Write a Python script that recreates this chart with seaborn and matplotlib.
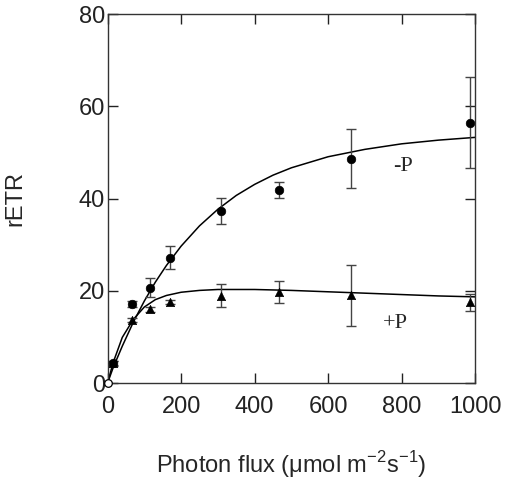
import numpy as np
import pandas as pd
import seaborn as sns
import matplotlib
matplotlib.use("Agg")
import matplotlib.pyplot as plt

flux = [15, 67, 116, 170, 309, 467, 663, 987]
etr_minus_p = [4.3, 17.2, 20.7, 27.2, 37.4, 41.9, 48.7, 56.5]
err_minus_p = [0.5, 0.6, 2.0, 2.5, 2.8, 1.8, 6.4, 9.8]
etr_plus_p = [4.3, 13.7, 16.0, 17.6, 18.9, 19.7, 19.0, 17.5]
err_plus_p = [0.4, 0.5, 0.6, 0.5, 2.5, 2.4, 6.6, 1.8]

# fitted curves
fit_flux = [0, 15, 40, 70, 100, 130, 160, 200, 250, 300, 350, 400,
            450, 500, 600, 700, 800, 900, 1000]
fit_minus_p = [0, 3.3, 8.0, 13.2, 17.8, 21.9, 25.5, 29.7, 34.1, 37.7, 40.7,
               43.1, 45.1, 46.7, 49.1, 50.7, 51.9, 52.7, 53.3]
fit_plus_p = [0, 4.4, 9.9, 13.8, 16.5, 18.1, 19.0, 19.7, 20.1, 20.3, 20.3,
              20.3, 20.2, 20.1, 19.8, 19.5, 19.2, 18.9, 18.7]

sns.set_style("ticks")
plt.rcParams['font.family'] = ['Liberation Sans', 'DejaVu Sans']
plt.rcParams['mathtext.fontset'] = 'custom'
plt.rcParams['mathtext.rm'] = 'Liberation Sans'

fig = plt.figure(figsize=(5.05, 4.93), dpi=100)
ax = fig.add_axes([0.213, 0.223, 0.728, 0.748])

fits = pd.DataFrame({"flux": fit_flux, "minus": fit_minus_p, "plus": fit_plus_p})
sns.lineplot(data=fits, x="flux", y="minus", ax=ax, color="black", lw=1.1)
sns.lineplot(data=fits, x="flux", y="plus", ax=ax, color="black", lw=1.1)

ax.errorbar(flux, etr_minus_p, yerr=err_minus_p, fmt="none", ecolor="#444444",
            elinewidth=1.0, capsize=3.5, capthick=1.0, zorder=2)
ax.errorbar(flux, etr_plus_p, yerr=err_plus_p, fmt="none", ecolor="#444444",
            elinewidth=1.0, capsize=3.5, capthick=1.0, zorder=2)

pts = pd.DataFrame({"flux": flux, "minus": etr_minus_p, "plus": etr_plus_p})
sns.scatterplot(data=pts, x="flux", y="minus", ax=ax, color="black",
                marker="o", s=38, edgecolor="black", zorder=3)
sns.scatterplot(data=pts, x="flux", y="plus", ax=ax, color="black",
                marker="^", s=36, edgecolor="black", zorder=3)
ax.scatter([0], [0], s=30, facecolor="white", edgecolor="black", lw=0.9,
           zorder=4, clip_on=False)

ax.text(777, 46.9, "-P", fontsize=16, va="center", family="Liberation Serif")
ax.text(750, 13.0, "+P", fontsize=16, va="center", family="Liberation Serif")

ax.set_xlim(0, 1000)
ax.set_ylim(0, 80)
ax.set_xticks([0, 200, 400, 600, 800, 1000])
ax.set_yticks([0, 20, 40, 60, 80])
ax.tick_params(direction="in", length=7.5, width=1, labelsize=17,
               top=True, right=True, pad=2, colors="#222222")
ax.tick_params(axis="x", pad=9)
for s in ax.spines.values():
    s.set_visible(True)
    s.set_linewidth(1.0)
    s.set_color("#333333")

ax.set_xlabel("Photon flux (μmol m$^{-2}$s$^{-1}$)", fontsize=17)
ax.set_ylabel("rETR", fontsize=17)
ax.xaxis.set_label_coords(0.5, -0.18)
ax.yaxis.set_label_coords(-0.22, 0.5)

fig.savefig("out.png", dpi=100)
